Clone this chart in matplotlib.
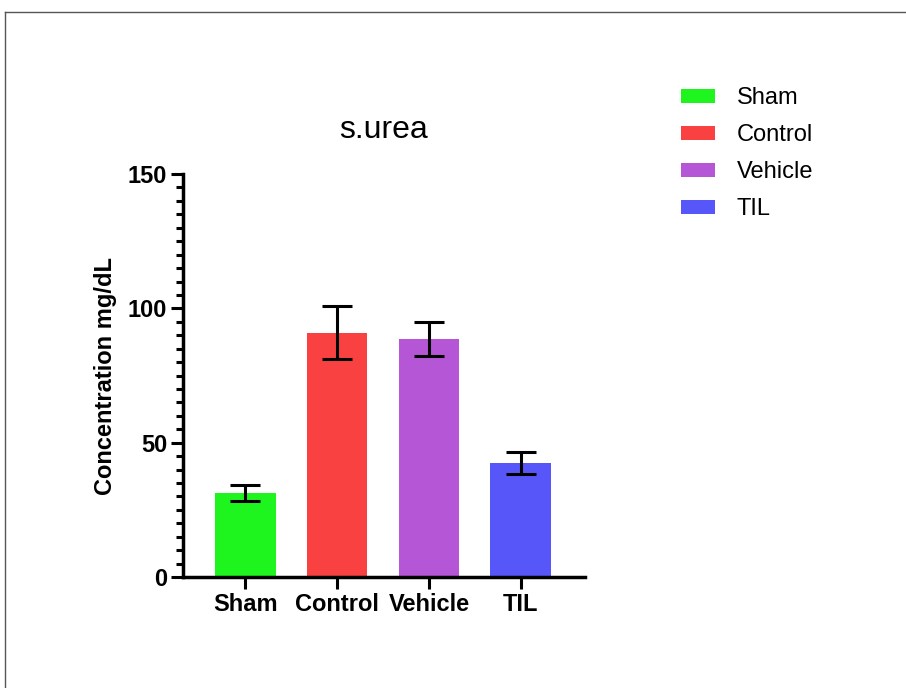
import numpy as np
import matplotlib
matplotlib.use("Agg")
import matplotlib.pyplot as plt
from matplotlib.lines import Line2D
from matplotlib.ticker import MultipleLocator

plt.rcParams['font.family'] = ['Liberation Sans', 'DejaVu Sans']

# Serum urea per group (mean and error)
groups = ['Sham', 'Control', 'Vehicle', 'TIL']
means = [31.3, 91.0, 88.7, 42.5]
errors = [2.9, 10.0, 6.3, 4.0]
colors = ['#1EF51E', '#F94141', '#B556D6', '#5757F9']

fig = plt.figure(figsize=(9.06, 6.88), dpi=100)
ax = fig.add_axes([0.202, 0.1613, 0.4437, 0.5857])

x = np.arange(len(groups))
bars = ax.bar(x, means, width=0.66, color=colors, label=groups, zorder=2)
ax.errorbar(x, means, yerr=errors, fmt='none', ecolor='black',
            elinewidth=2.2, capsize=10.8, capthick=2.2, zorder=3)

ax.set_xlim(-0.68, 3.7)
ax.set_ylim(0, 150)
ax.yaxis.set_major_locator(MultipleLocator(50))
ax.yaxis.set_minor_locator(MultipleLocator(5))
ax.set_xticks(x)
ax.set_xticklabels(groups, fontsize=17, fontweight='bold')
for lbl in ax.get_yticklabels():
    lbl.set_fontsize(17)
    lbl.set_fontweight('bold')

for side in ['top', 'right']:
    ax.spines[side].set_visible(False)
for side in ['left', 'bottom']:
    ax.spines[side].set_linewidth(2.5)
ax.tick_params(axis='both', which='major', length=8.5, width=2.2, pad=3)
ax.tick_params(axis='y', which='minor', length=5, width=2.2)

ax.set_ylabel('Concentration mg/dL', fontsize=17, fontweight='bold', labelpad=8)
ax.set_title('s.urea', fontsize=23, pad=26)

fig.legend(handles=bars, labels=groups, loc='upper left',
           bbox_to_anchor=(681 / 906, 1 - 87 / 688), frameon=False,
           fontsize=17, handlelength=1.45, handleheight=0.55,
           handletextpad=0.9, labelspacing=0.64, borderpad=0, borderaxespad=0)

# Thin border along top and left edges
fig.add_artist(Line2D([5 / 906, 1], [1 - 12 / 688, 1 - 12 / 688],
                      transform=fig.transFigure, color='#555555', lw=1))
fig.add_artist(Line2D([5 / 906, 5 / 906], [0, 1 - 12 / 688],
                      transform=fig.transFigure, color='#555555', lw=1))

fig.savefig('out.png', dpi=100)
